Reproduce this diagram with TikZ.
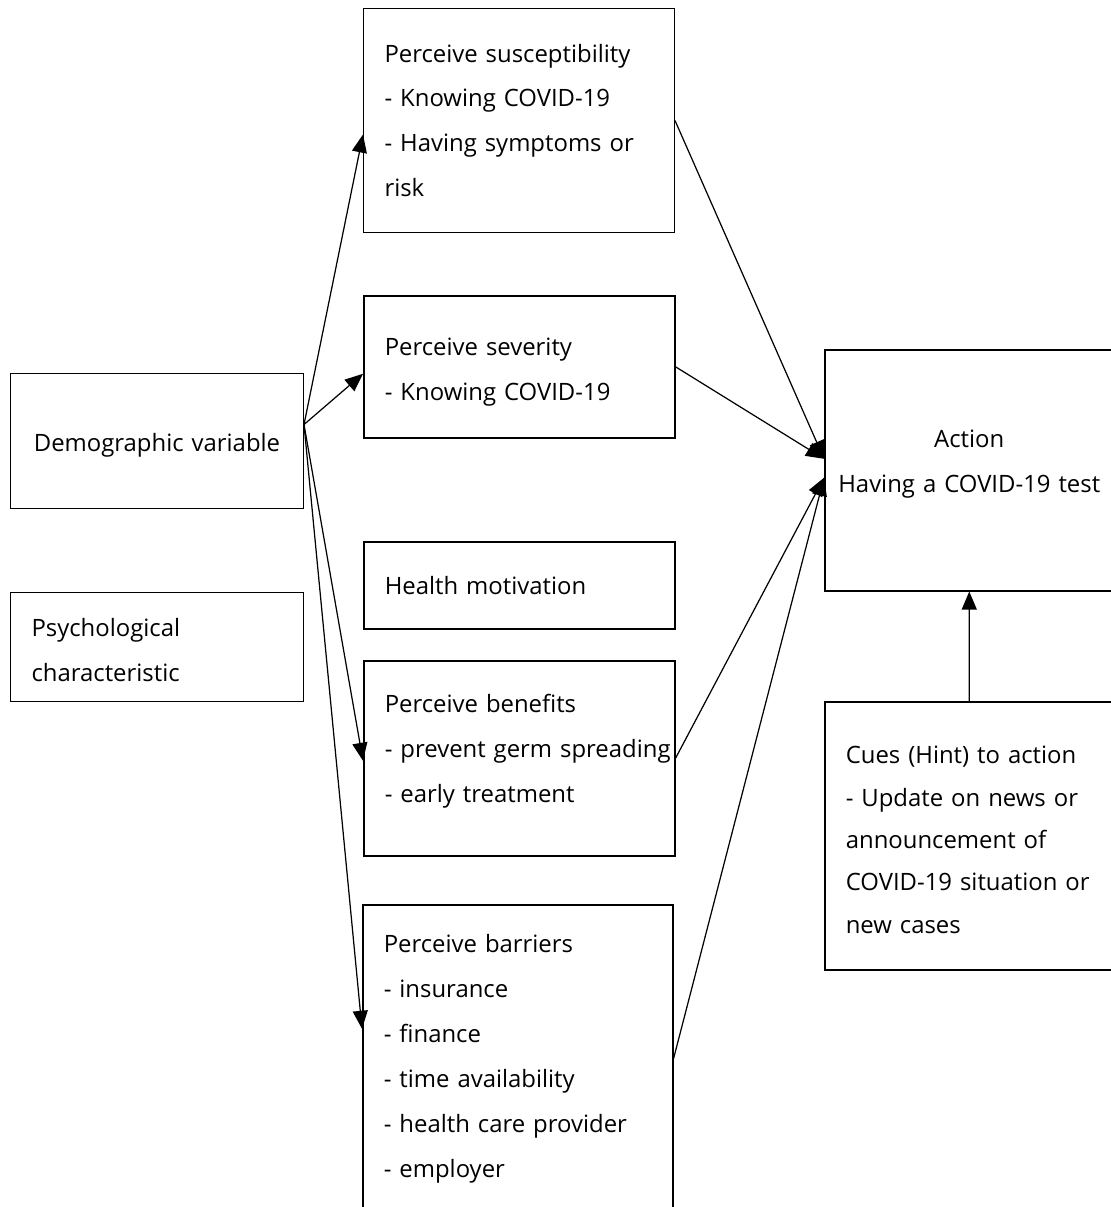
\documentclass[tikz,border=0pt]{standalone}
\usepackage{fontspec}
\setmainfont{Open Sans}
\usetikzlibrary{arrows.meta}

\tikzset{
  boite/.style={draw, line width=0.6pt, anchor=north west, inner xsep=0.42cm,
    inner ysep=0pt, align=left, font=\fontsize{13.6}{25.6}\selectfont},
  boite epaisse/.style={boite, line width=0.9pt},
  fleche/.style={-{Triangle[length=0.36cm,width=0.3cm]}, line width=0.7pt},
}

\begin{document}
\begin{tikzpicture}[x=0.02cm, y=-0.02cm]

    \useasboundingbox (0, 0) rectangle (1110, 1207);

    % facteurs a gauche
    \node[boite, align=center, text width=5.02cm, minimum height=2.7cm, text height=0.55cm] (demo) at (10, 373) {Demographic variable};
    \node[boite, text width=5.02cm, minimum height=2.18cm, text height=0.47cm] (psy) at (10, 592) {Psychological\\characteristic};

    % perceptions
    \node[boite, text width=5.38cm, minimum height=4.48cm] (susc) at (363, 8)
      {Perceive susceptibility\\- Knowing COVID-19\\- Having symptoms or\\risk};
    \node[boite epaisse, text width=5.38cm, minimum height=2.84cm, text height=0.55cm] (sev) at (363, 295)
      {Perceive severity\\- Knowing COVID-19};
    \node[boite epaisse, text width=5.38cm, minimum height=1.74cm] (motiv) at (363, 541)
      {Health motivation};
    \node[boite epaisse, text width=5.38cm, minimum height=3.9cm, text height=0.07cm] (bene) at (363, 660)
      {Perceive benefits\\\mbox{- prevent germ spreading}\\- early treatment};
    \node[boite epaisse, text width=5.36cm, minimum height=6.16cm] (barr) at (362, 904)
      {Perceive barriers\\- insurance\\- finance\\- time availability\\- health care provider\\- employer};

    % action et indices
    \node[boite epaisse, align=center, inner xsep=0.1cm, text width=5.58cm, minimum height=4.82cm, text height=0.11cm] (action) at (824, 349)
      {Action\\Having a COVID-19 test};
    \node[boite epaisse, text width=4.94cm, minimum height=5.36cm, text height=0.52cm, font=\fontsize{13.6}{24.1}\selectfont] (cues) at (824, 701)
      {Cues (Hint) to action\\- Update on news or\\announcement of\\COVID-19 situation or\\new cases};

    % points d'attache
    \coordinate (demo out) at ([yshift=0.33cm]demo.east);
    \coordinate (act in1) at ([yshift=0.23cm]action.west);
    \coordinate (act in2) at ([yshift=-0.15cm]action.west);

    % fleches
    \draw[fleche] (demo out) -- ([yshift=-0.28cm]susc.west);
    \draw[fleche] (demo out) -- ([yshift=-0.14cm]sev.west);
    \draw[fleche] (demo out) -- ([yshift=-0.05cm]bene.west);
    \draw[fleche] (demo out) -- ([yshift=0.6cm]barr.west);

    \draw[fleche] (susc.east) -- (act in1);
    \draw[fleche] (sev.east) -- (act in1);
    \draw[fleche] (bene.east) -- (act in2);
    \draw[fleche] (barr.east) -- (act in2);

    \draw[fleche] (cues.north) -- (action.south);

\end{tikzpicture}
\end{document}
